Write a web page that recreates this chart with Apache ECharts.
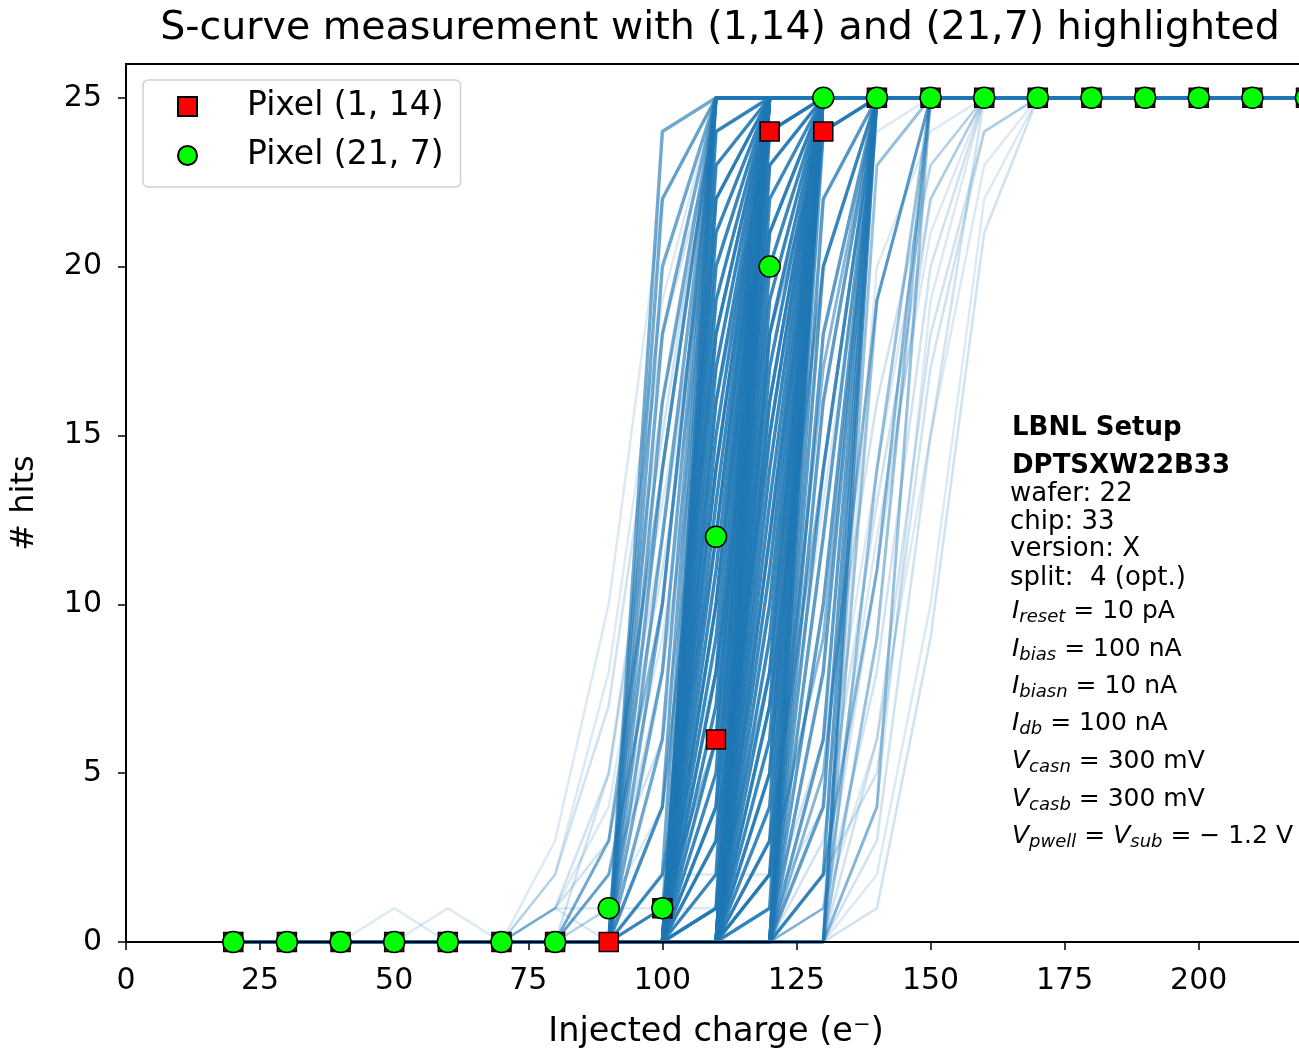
<!DOCTYPE html>
<html><head><meta charset="utf-8">
<script src="https://cdn.jsdelivr.net/npm/echarts@6/dist/echarts.min.js"></script>
<style>html,body{margin:0;padding:0;background:#fff}#c{width:1299px;height:1048px}</style>
</head><body><div id="c"></div>
<script>
// ---- data ----
const xs = [20,30,40,50,60,70,80,90,100,110,120,130,140,150,160,170,180,190,200,210,220];
const xTicks = [0,25,50,75,100,125,150,175,200];
const yTicks = [0,5,10,15,20,25];
const pixel_1_14 = [0,0,0,0,0,0,0,0,1,6,24,24,25,25,25,25,25,25,25,25,25];
const pixel_21_7 = [0,0,0,0,0,0,0,1,1,12,20,25,25,25,25,25,25,25,25,25,25];
const titleText = 'S-curve measurement with (1,14) and (21,7) highlighted';
const xLabel = 'Injected charge (e\u207B)';
const yLabel = '# hits';
const legendNames = ['Pixel (1, 14)', 'Pixel (21, 7)'];

// S-curves of the other pixels: hits at each injected charge in xs
const curvesThr90 = [
  [0,0,0,0,0,0,0,0,2,25,25,25,25,25,25,25,25,25,25,25,25],
  [0,0,0,0,0,0,0,0,4,25,25,25,25,25,25,25,25,25,25,25,25],
  [0,0,0,0,0,0,0,0,6,25,25,25,25,25,25,25,25,25,25,25,25],
  [0,0,0,0,0,0,0,0,8,25,25,25,25,25,25,25,25,25,25,25,25],
  [0,0,0,0,0,0,0,0,10,25,25,25,25,25,25,25,25,25,25,25,25],
  [0,0,0,0,0,0,0,0,12,25,25,25,25,25,25,25,25,25,25,25,25],
  [0,0,0,0,0,0,0,0,14,25,25,25,25,25,25,25,25,25,25,25,25],
  [0,0,0,0,0,0,0,0,16,25,25,25,25,25,25,25,25,25,25,25,25],
  [0,0,0,0,0,0,0,0,18,25,25,25,25,25,25,25,25,25,25,25,25],
  [0,0,0,0,0,0,0,0,20,25,25,25,25,25,25,25,25,25,25,25,25],
  [0,0,0,0,0,0,0,0,22,25,25,25,25,25,25,25,25,25,25,25,25],
  [0,0,0,0,0,0,0,0,24,25,25,25,25,25,25,25,25,25,25,25,25]
];
const curvesThr100 = [
  [0,0,0,0,0,0,0,0,0,1,25,25,25,25,25,25,25,25,25,25,25],
  [0,0,0,0,0,0,0,0,0,2,25,25,25,25,25,25,25,25,25,25,25],
  [0,0,0,0,0,0,0,0,0,3,25,25,25,25,25,25,25,25,25,25,25],
  [0,0,0,0,0,0,0,0,0,4,25,25,25,25,25,25,25,25,25,25,25],
  [0,0,0,0,0,0,0,0,0,5,25,25,25,25,25,25,25,25,25,25,25],
  [0,0,0,0,0,0,0,0,0,6,25,25,25,25,25,25,25,25,25,25,25],
  [0,0,0,0,0,0,0,0,0,7,25,25,25,25,25,25,25,25,25,25,25],
  [0,0,0,0,0,0,0,0,0,8,25,25,25,25,25,25,25,25,25,25,25],
  [0,0,0,0,0,0,0,0,0,9,25,25,25,25,25,25,25,25,25,25,25],
  [0,0,0,0,0,0,0,0,0,10,25,25,25,25,25,25,25,25,25,25,25],
  [0,0,0,0,0,0,0,0,0,11,25,25,25,25,25,25,25,25,25,25,25],
  [0,0,0,0,0,0,0,0,0,12,25,25,25,25,25,25,25,25,25,25,25],
  [0,0,0,0,0,0,0,0,0,13,25,25,25,25,25,25,25,25,25,25,25],
  [0,0,0,0,0,0,0,0,0,14,25,25,25,25,25,25,25,25,25,25,25],
  [0,0,0,0,0,0,0,0,0,15,25,25,25,25,25,25,25,25,25,25,25],
  [0,0,0,0,0,0,0,0,0,16,25,25,25,25,25,25,25,25,25,25,25],
  [0,0,0,0,0,0,0,0,0,17,25,25,25,25,25,25,25,25,25,25,25],
  [0,0,0,0,0,0,0,0,0,18,25,25,25,25,25,25,25,25,25,25,25],
  [0,0,0,0,0,0,0,0,0,19,25,25,25,25,25,25,25,25,25,25,25],
  [0,0,0,0,0,0,0,0,0,20,25,25,25,25,25,25,25,25,25,25,25],
  [0,0,0,0,0,0,0,0,0,21,25,25,25,25,25,25,25,25,25,25,25],
  [0,0,0,0,0,0,0,0,0,22,25,25,25,25,25,25,25,25,25,25,25],
  [0,0,0,0,0,0,0,0,0,23,25,25,25,25,25,25,25,25,25,25,25],
  [0,0,0,0,0,0,0,0,0,24,25,25,25,25,25,25,25,25,25,25,25]
];
const curvesThr110 = [
  [0,0,0,0,0,0,0,0,0,0,1,25,25,25,25,25,25,25,25,25,25],
  [0,0,0,0,0,0,0,0,0,0,2,25,25,25,25,25,25,25,25,25,25],
  [0,0,0,0,0,0,0,0,0,0,3,25,25,25,25,25,25,25,25,25,25],
  [0,0,0,0,0,0,0,0,0,0,4,25,25,25,25,25,25,25,25,25,25],
  [0,0,0,0,0,0,0,0,0,0,5,25,25,25,25,25,25,25,25,25,25],
  [0,0,0,0,0,0,0,0,0,0,6,25,25,25,25,25,25,25,25,25,25],
  [0,0,0,0,0,0,0,0,0,0,7,25,25,25,25,25,25,25,25,25,25],
  [0,0,0,0,0,0,0,0,0,0,8,25,25,25,25,25,25,25,25,25,25],
  [0,0,0,0,0,0,0,0,0,0,9,25,25,25,25,25,25,25,25,25,25],
  [0,0,0,0,0,0,0,0,0,0,10,25,25,25,25,25,25,25,25,25,25],
  [0,0,0,0,0,0,0,0,0,0,11,25,25,25,25,25,25,25,25,25,25],
  [0,0,0,0,0,0,0,0,0,0,12,25,25,25,25,25,25,25,25,25,25],
  [0,0,0,0,0,0,0,0,0,0,13,25,25,25,25,25,25,25,25,25,25],
  [0,0,0,0,0,0,0,0,0,0,14,25,25,25,25,25,25,25,25,25,25],
  [0,0,0,0,0,0,0,0,0,0,15,25,25,25,25,25,25,25,25,25,25],
  [0,0,0,0,0,0,0,0,0,0,16,25,25,25,25,25,25,25,25,25,25],
  [0,0,0,0,0,0,0,0,0,0,17,25,25,25,25,25,25,25,25,25,25],
  [0,0,0,0,0,0,0,0,0,0,18,25,25,25,25,25,25,25,25,25,25],
  [0,0,0,0,0,0,0,0,0,0,19,25,25,25,25,25,25,25,25,25,25],
  [0,0,0,0,0,0,0,0,0,0,20,25,25,25,25,25,25,25,25,25,25],
  [0,0,0,0,0,0,0,0,0,0,21,25,25,25,25,25,25,25,25,25,25],
  [0,0,0,0,0,0,0,0,0,0,22,25,25,25,25,25,25,25,25,25,25],
  [0,0,0,0,0,0,0,0,0,0,23,25,25,25,25,25,25,25,25,25,25],
  [0,0,0,0,0,0,0,0,0,0,24,25,25,25,25,25,25,25,25,25,25]
];
const curvesThr120 = [
  [0,0,0,0,0,0,0,0,0,0,0,2,25,25,25,25,25,25,25,25,25],
  [0,0,0,0,0,0,0,0,0,0,0,4,25,25,25,25,25,25,25,25,25],
  [0,0,0,0,0,0,0,0,0,0,0,6,25,25,25,25,25,25,25,25,25],
  [0,0,0,0,0,0,0,0,0,0,0,8,25,25,25,25,25,25,25,25,25],
  [0,0,0,0,0,0,0,0,0,0,0,10,25,25,25,25,25,25,25,25,25],
  [0,0,0,0,0,0,0,0,0,0,0,12,25,25,25,25,25,25,25,25,25],
  [0,0,0,0,0,0,0,0,0,0,0,14,25,25,25,25,25,25,25,25,25],
  [0,0,0,0,0,0,0,0,0,0,0,16,25,25,25,25,25,25,25,25,25],
  [0,0,0,0,0,0,0,0,0,0,0,18,25,25,25,25,25,25,25,25,25],
  [0,0,0,0,0,0,0,0,0,0,0,20,25,25,25,25,25,25,25,25,25],
  [0,0,0,0,0,0,0,0,0,0,0,22,25,25,25,25,25,25,25,25,25],
  [0,0,0,0,0,0,0,0,0,0,0,24,25,25,25,25,25,25,25,25,25]
];
const curvesThr130 = [
  [0,0,0,0,0,0,0,0,0,0,0,0,4,25,25,25,25,25,25,25,25],
  [0,0,0,0,0,0,0,0,0,0,0,0,9,25,25,25,25,25,25,25,25],
  [0,0,0,0,0,0,0,0,0,0,0,0,14,25,25,25,25,25,25,25,25],
  [0,0,0,0,0,0,0,0,0,0,0,0,19,25,25,25,25,25,25,25,25],
  [0,0,0,0,0,0,0,0,0,0,0,0,23,25,25,25,25,25,25,25,25]
];
const curvesSteep = [
  [0,0,0,0,0,0,0,0,0,25,25,25,25,25,25,25,25,25,25,25,25],
  [0,0,0,0,0,0,0,0,0,0,25,25,25,25,25,25,25,25,25,25,25],
  [0,0,0,0,0,0,0,0,0,0,0,25,25,25,25,25,25,25,25,25,25],
  [0,0,0,0,0,0,0,0,0,0,0,0,25,25,25,25,25,25,25,25,25]
];
const curvesTwoStep = [
  [0,0,0,0,0,0,0,0,1,6,25,25,25,25,25,25,25,25,25,25,25],
  [0,0,0,0,0,0,0,0,1,14,25,25,25,25,25,25,25,25,25,25,25],
  [0,0,0,0,0,0,0,0,1,22,25,25,25,25,25,25,25,25,25,25,25],
  [0,0,0,0,0,0,0,0,0,1,8,25,25,25,25,25,25,25,25,25,25],
  [0,0,0,0,0,0,0,0,0,1,16,25,25,25,25,25,25,25,25,25,25],
  [0,0,0,0,0,0,0,0,0,1,23,25,25,25,25,25,25,25,25,25,25],
  [0,0,0,0,0,0,0,0,0,0,2,9,25,25,25,25,25,25,25,25,25],
  [0,0,0,0,0,0,0,0,0,0,2,17,25,25,25,25,25,25,25,25,25],
  [0,0,0,0,0,0,0,0,0,4,24,25,25,25,25,25,25,25,25,25,25],
  [0,0,0,0,0,0,0,0,0,10,24,25,25,25,25,25,25,25,25,25,25],
  [0,0,0,0,0,0,0,0,0,16,24,25,25,25,25,25,25,25,25,25,25],
  [0,0,0,0,0,0,0,0,0,0,5,24,25,25,25,25,25,25,25,25,25],
  [0,0,0,0,0,0,0,0,0,0,12,24,25,25,25,25,25,25,25,25,25],
  [0,0,0,0,0,0,0,0,0,0,18,24,25,25,25,25,25,25,25,25,25],
  [0,0,0,0,0,0,0,2,10,25,25,25,25,25,25,25,25,25,25,25,25],
  [0,0,0,0,0,0,0,3,14,25,25,25,25,25,25,25,25,25,25,25,25],
  [0,0,0,0,0,0,0,0,2,12,25,25,25,25,25,25,25,25,25,25,25],
  [0,0,0,0,0,0,0,0,4,18,25,25,25,25,25,25,25,25,25,25,25],
  [0,0,0,0,0,0,0,0,0,3,15,25,25,25,25,25,25,25,25,25,25],
  [0,0,0,0,0,0,0,0,0,8,21,25,25,25,25,25,25,25,25,25,25],
  [0,0,0,0,0,0,0,0,0,0,3,14,25,25,25,25,25,25,25,25,25],
  [0,0,0,0,0,0,0,0,0,0,7,20,25,25,25,25,25,25,25,25,25],
  [0,0,0,0,0,0,0,0,0,0,0,2,11,25,25,25,25,25,25,25,25],
  [0,0,0,0,0,0,0,0,0,0,0,5,19,25,25,25,25,25,25,25,25]
];
const curvesHalo = [
  [0,0,0,0,0,0,1,5,15,25,25,25,25,25,25,25,25,25,25,25,25],
  [0,0,0,0,0,0,2,7,18,24,25,25,25,25,25,25,25,25,25,25,25],
  [0,0,0,0,0,0,0,3,12,23,25,25,25,25,25,25,25,25,25,25,25],
  [0,0,0,0,0,0,0,5,16,24,25,25,25,25,25,25,25,25,25,25,25],
  [0,0,0,0,0,0,1,3,11,21,25,25,25,25,25,25,25,25,25,25,25],
  [0,0,0,0,0,0,0,2,6,17,25,25,25,25,25,25,25,25,25,25,25],
  [0,0,0,0,0,0,0,1,8,19,25,25,25,25,25,25,25,25,25,25,25],
  [0,0,0,0,0,0,0,0,0,0,0,1,8,20,25,25,25,25,25,25,25],
  [0,0,0,0,0,0,0,0,0,0,0,3,13,22,25,25,25,25,25,25,25],
  [0,0,0,0,0,0,0,0,0,0,0,0,3,15,25,25,25,25,25,25,25],
  [0,0,0,0,0,0,0,0,0,0,0,0,6,18,24,25,25,25,25,25,25],
  [0,0,0,0,0,0,0,0,0,0,0,2,5,17,24,25,25,25,25,25,25],
  [0,0,0,0,0,0,0,0,0,0,1,6,16,23,25,25,25,25,25,25,25],
  [0,0,0,0,0,0,0,0,0,0,0,0,1,9,21,25,25,25,25,25,25],
  [0,0,0,0,0,0,0,0,0,0,0,1,11,22,25,25,25,25,25,25,25]
];
const curvesOutlier = [
  [0,0,0,0,0,0,3,10,22,25,25,25,25,25,25,25,25,25,25,25,25],
  [0,0,0,0,0,0,2,8,19,25,25,25,25,25,25,25,25,25,25,25,25],
  [0,0,0,0,0,0,1,4,13,22,25,25,25,25,25,25,25,25,25,25,25],
  [0,0,0,0,0,0,0,2,9,20,25,25,25,25,25,25,25,25,25,25,25],
  [0,0,0,0,0,0,0,1,4,14,24,25,25,25,25,25,25,25,25,25,25],
  [0,0,0,0,0,0,0,0,2,8,19,25,25,25,25,25,25,25,25,25,25],
  [0,0,0,0,0,0,0,0,0,2,10,22,25,25,25,25,25,25,25,25,25],
  [0,0,0,0,0,0,0,0,0,0,2,13,24,25,25,25,25,25,25,25,25],
  [0,0,0,0,0,0,0,0,0,0,0,0,2,10,22,25,25,25,25,25,25],
  [0,0,0,0,0,0,0,0,0,0,0,1,6,15,23,25,25,25,25,25,25],
  [0,0,0,0,0,0,0,0,0,0,0,2,12,21,25,25,25,25,25,25,25],
  [0,0,0,0,0,0,0,0,0,0,1,4,14,23,25,25,25,25,25,25,25],
  [0,0,0,0,0,0,0,0,0,0,0,0,4,19,25,25,25,25,25,25,25],
  [0,0,0,0,0,0,0,0,0,0,0,1,20,24,25,25,25,25,25,25,25],
  [0,0,0,1,0,0,0,0,0,12,25,25,25,25,25,25,25,25,25,25,25],
  [0,0,0,0,1,0,0,0,0,0,14,25,25,25,25,25,25,25,25,25,25],
  [0,0,0,0,0,0,1,0,0,10,25,25,25,25,25,25,25,25,25,25,25],
  [0,0,0,0,0,0,1,1,1,1,18,25,25,25,25,25,25,25,25,25,25],
  [0,0,0,0,0,0,0,0,2,2,2,20,25,25,25,25,25,25,25,25,25]
];
// pixels sharing each curve in a group
const groupWeights = { thr90: 2, thr100: 4, thr110: 4, thr120: 2.5, thr130: 1.2, steep: 3, twoStep: 1.5, halo: 0.45, outlier: 0.35 };

const infoLines = [
  '{b|LBNL Setup}',
  '{b|DPTSXW22B33}',
  '{n|wafer: 22}',
  '{n|chip: 33}',
  '{n|version: X}',
  '{n|split:  4 (opt.)}',
  '{i|I}{s|reset}{m| = 10 pA}',
  '{i|I}{s|bias}{m| = 100 nA}',
  '{i|I}{s|biasn}{m| = 10 nA}',
  '{i|I}{s|db}{m| = 100 nA}',
  '{i|V}{s|casn}{m| = 300 mV}',
  '{i|V}{s|casb}{m| = 300 mV}',
  '{i|V}{s|pwell}{m| = }{i|V}{s|sub}{m| = \u2212 1.2 V}'
];

// ---- chart ----
const FONT = 'DejaVu Sans';
const infoY = [428,466,494,522,549,578,611,649,686,723,761,799,836];
const infoX = [1012,1012,1010,1010,1010,1010,1012,1012,1012,1012,1012,1012,1012];
const alpha = 0.4;
const series = [];
function addGroup(curves, w, lw) {
  const op = 1 - Math.pow(1 - alpha, w);
  curves.forEach((c) => {
    series.push({
      type: 'line', silent: true, symbol: 'none', showSymbol: false,
      animation: false, z: 2,
      data: xs.map((x, i) => [x, c[i]]),
      lineStyle: { color: '#1f77b4', width: lw, opacity: op }
    });
  });
}
addGroup(curvesOutlier, groupWeights.outlier, 2.4);
addGroup(curvesHalo, groupWeights.halo, 2.6);
addGroup(curvesThr130, groupWeights.thr130, 3);
addGroup(curvesThr90, groupWeights.thr90, 3.4);
addGroup(curvesThr120, groupWeights.thr120, 3.4);
addGroup(curvesTwoStep, groupWeights.twoStep, 3);
addGroup(curvesThr100, groupWeights.thr100, 3.4);
addGroup(curvesThr110, groupWeights.thr110, 3.4);
addGroup(curvesSteep, groupWeights.steep, 3.4);

series.push({
  type: 'scatter', name: legendNames[0], symbol: 'rect', symbolSize: 19, z: 10, animation: false,
  data: xs.map((x, i) => [x, pixel_1_14[i]]),
  itemStyle: { color: '#ff0000', borderColor: '#000', borderWidth: 1.5, opacity: 1 }
});
series.push({
  type: 'scatter', name: legendNames[1], symbol: 'circle', symbolSize: 21, z: 11, animation: false,
  data: xs.map((x, i) => [x, pixel_21_7[i]]),
  itemStyle: { color: '#00ff00', borderColor: '#000', borderWidth: 1.5, opacity: 1 }
});

const rich = {
  b: { fontFamily: FONT, fontSize: 26, fontWeight: 'bold', fill: '#000' },
  n: { fontFamily: FONT, fontSize: 26, fill: '#000' },
  m: { fontFamily: FONT, fontSize: 25, fill: '#000' },
  i: { fontFamily: FONT, fontSize: 25, fontStyle: 'italic', fill: '#000' },
  s: { fontFamily: FONT, fontSize: 18, fontStyle: 'italic', fill: '#000', padding: [12, 0, 0, 0] }
};

const chart = echarts.init(document.getElementById('c'), null, { renderer: 'canvas' });
chart.setOption({
  animation: false,
  backgroundColor: '#fff',
  title: {
    text: titleText, left: 715, top: 4, textAlign: 'center',
    textStyle: { fontFamily: FONT, fontSize: 39.5, fontWeight: 'normal', color: '#000' }
  },
  legend: {
    data: legendNames, orient: 'vertical', left: 143, top: 80,
    padding: [8, 17, 13, 34], itemWidth: 19, itemHeight: 19, itemGap: 12,
    backgroundColor: 'rgba(255,255,255,0.8)', borderColor: '#d0d0d0', borderWidth: 1.5, borderRadius: 5,
    textStyle: { fontFamily: FONT, fontSize: 33, color: '#000', lineHeight: 37, padding: [0, 0, 0, 45] }
  },
  grid: { left: 126, top: 64, right: -7, bottom: 106, outerBoundsMode: 'none', containLabel: false,
          show: true, borderColor: '#000', borderWidth: 2, backgroundColor: 'transparent' },
  xAxis: {
    type: 'value', min: 0, max: 220, z: 5,
    name: xLabel, nameLocation: 'middle', nameGap: 73,
    nameTextStyle: { fontFamily: FONT, fontSize: 33.5, color: '#000' },
    axisLine: { lineStyle: { color: '#000', width: 2 } },
    axisTick: { customValues: xTicks, length: 8, lineStyle: { color: '#000', width: 1.5 } },
    axisLabel: { customValues: xTicks, fontFamily: FONT, fontSize: 30, color: '#000', margin: 24 },
    splitLine: { show: false }
  },
  yAxis: {
    type: 'value', min: 0, max: 26, z: 5,
    name: yLabel, nameLocation: 'middle', nameGap: 85,
    nameTextStyle: { fontFamily: FONT, fontSize: 32, color: '#000' },
    axisLine: { show: true, lineStyle: { color: '#000', width: 2 } },
    axisTick: { show: true, customValues: yTicks, length: 8, lineStyle: { color: '#000', width: 1.5 } },
    axisLabel: { customValues: yTicks, fontFamily: FONT, fontSize: 30, color: '#000', margin: 24 },
    splitLine: { show: false }
  },
  graphic: {
    elements: infoLines.map((t, k) => ({
      type: 'text', x: infoX[k], y: infoY[k], z: 20, silent: true,
      style: { text: t, rich: rich, verticalAlign: 'middle', align: 'left', fill: '#000', font: '25px DejaVu Sans' }
    }))
  },
  series: series
});
</script>
</body></html>
